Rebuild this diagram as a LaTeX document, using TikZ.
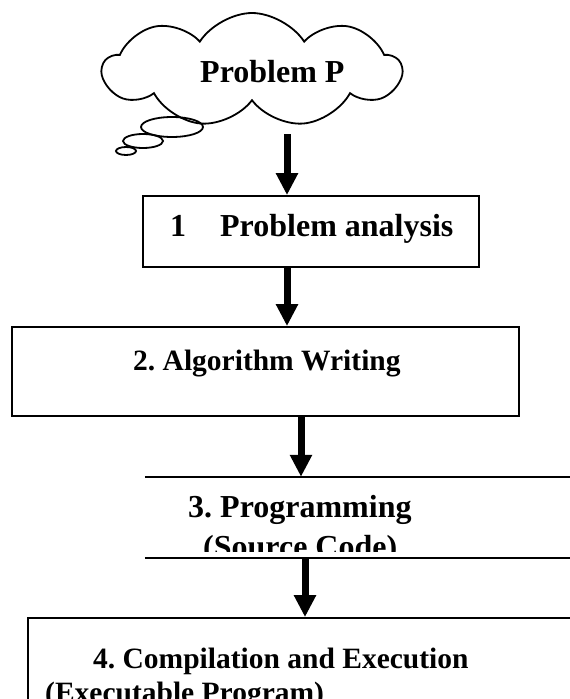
\documentclass[tikz,border=0pt]{standalone}
\usepackage{fontspec}
\setmainfont{Liberation Serif}
\frenchspacing
\usetikzlibrary{shapes.symbols,arrows.meta,positioning}

\tikzset{
  stagebox/.style={draw,line width=1.8pt,inner sep=0pt},
  stagetext/.style={font=\fontsize{32}{38}\selectfont\bfseries,inner sep=0pt,anchor=base west},
  smalltext/.style={stagetext,font=\fontsize{29.5}{35}\selectfont\bfseries},
  flow/.style={line width=7pt,-{Triangle[width=21pt,length=22pt]}},
}

\begin{document}
\begin{tikzpicture}[x=1pt,y=-1pt]
  \clip (0,0) rectangle (570,699);

  % the problem, as a thought cloud
  \node[cloud,draw,line width=1.8pt,cloud puffs=9,cloud puff arc=115,aspect=2.7,
        minimum width=298pt,minimum height=114pt,inner sep=0pt] (problem) at (252,70) {};
  \node[stagetext] (problemtext) at (200,82) {Problem P};
  \draw[line width=1.8pt] (172,127) ellipse [x radius=31pt,y radius=10pt];
  \draw[line width=1.8pt] (143,141) ellipse [x radius=20pt,y radius=7pt];
  \draw[line width=1.8pt] (126,151) ellipse [x radius=10pt,y radius=4pt];
  \coordinate (cloudfoot) at (287,134);

  % the four stages
  \node[stagebox,minimum width=336pt,minimum height=71pt] (analysis) at (311,231.5) {};
  \node[stagetext] (analysistext) at (170,236) {1\hspace{34pt}Problem analysis};

  \node[stagebox,minimum width=507pt,minimum height=89pt] (algorithm) at (265.5,371.5) {};
  \node[smalltext] (algorithmtext) at (133,370) {2. Algorithm Writing};

  \node[minimum width=455pt,minimum height=81pt,inner sep=0pt] (programming) at (372.5,517.5) {};
  \draw[line width=1.8pt] (programming.north west) -- (programming.north east)
                          (programming.south west) -- (programming.south east);
  \begin{scope}
    \clip (programming.north west) rectangle ([yshift=7pt]programming.south east);
    \node[stagetext] (programmingtext) at (188,517) {3. Programming};
    \node[stagetext] (sourcetext) at (203,557) {(Source Code)};
  \end{scope}

  \node[stagebox,minimum width=600pt,minimum height=140pt] (execution) at (328,688) {};
  \node[smalltext] (executiontext) at (93,668) {4. Compilation and Execution};
  \node[smalltext] (programtext) at (45,702) {(Executable Program)};

  % arrows between the stages
  \coordinate (a1) at (287,0);
  \coordinate (a3) at (301,0);
  \coordinate (a4) at (305,0);
  \draw[flow] (cloudfoot) -- (analysis.north -| cloudfoot);
  \draw[flow] (analysis.south -| a1) -- (algorithm.north -| a1);
  \draw[flow] (algorithm.south -| a3) -- (programming.north -| a3);
  \draw[flow] (programming.south -| a4) -- (execution.north -| a4);
\end{tikzpicture}
\end{document}
